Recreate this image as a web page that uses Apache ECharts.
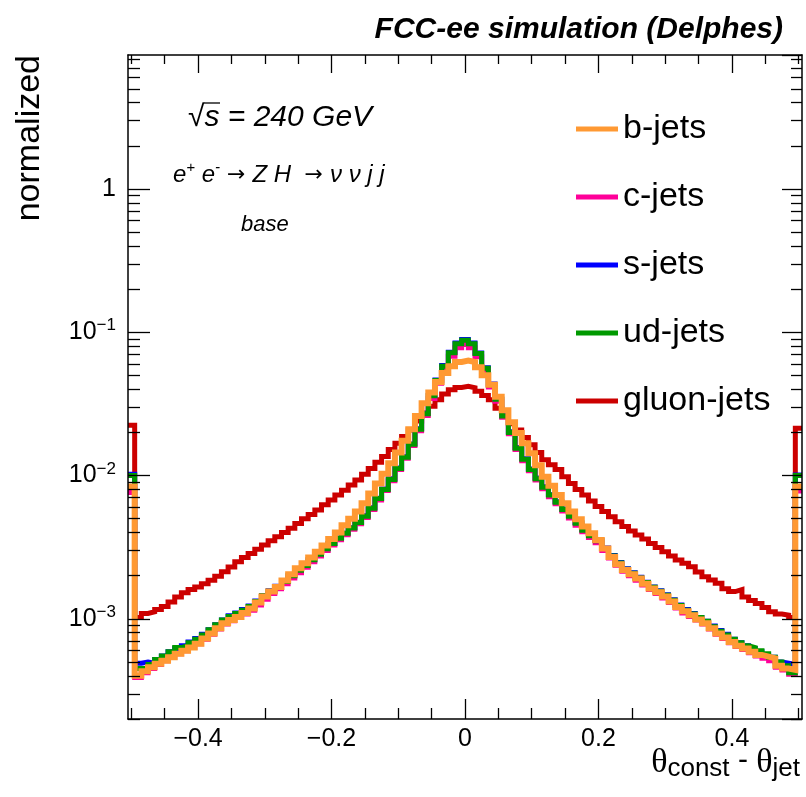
<!DOCTYPE html>
<html><head><meta charset="utf-8">
<script src="https://cdn.jsdelivr.net/npm/echarts@6/dist/echarts.min.js"></script>
<style>html,body{margin:0;padding:0;background:#fff}#c{width:806px;height:797px}</style>
</head><body><div id="c"></div>
<script>
// Histogram binning (101 bins of 0.01 centred on -0.50 ... 0.50)
const BIN_LO = -0.505, BIN_W = 0.01;
const X_MIN = -0.505, X_MAX = 0.505;
const Y_MIN = 2e-4, Y_MAX = 8.6;

const seriesNames = ['b-jets', 'c-jets', 's-jets', 'ud-jets', 'gluon-jets'];
const seriesColors = ['#FF9933', '#FF0099', '#0000FF', '#009900', '#CC0000'];

const bJets = [8.4e-3,
 4.0e-4,4.3e-4,4.6e-4,4.85e-4,5.1e-4,5.4e-4,5.7e-4,6.0e-4,6.3e-4,6.7e-4,
 7.3e-4,7.9e-4,8.6e-4,9.3e-4,9.8e-4,1.03e-3,1.1e-3,1.18e-3,1.3e-3,1.43e-3,
 1.55e-3,1.67e-3,1.85e-3,2.05e-3,2.25e-3,2.44e-3,2.68e-3,2.94e-3,3.25e-3,3.6e-3,
 4.0e-3,4.5e-3,5.0e-3,5.6e-3,6.4e-3,7.5e-3,8.8e-3,1.03e-2,1.22e-2,1.45e-2,
 1.75e-2,2.1e-2,2.6e-2,3.2e-2,3.8e-2,4.5e-2,5.2e-2,5.8e-2,6.2e-2,
 6.35e-2,
 6.2e-2,5.7e-2,5.0e-2,4.3e-2,3.55e-2,2.85e-2,2.35e-2,1.98e-2,1.68e-2,1.43e-2,
 1.18e-2,9.8e-3,8.5e-3,7.3e-3,6.4e-3,5.6e-3,4.95e-3,4.4e-3,3.95e-3,3.55e-3,
 3.1e-3,2.7e-3,2.4e-3,2.19e-3,2.05e-3,1.91e-3,1.76e-3,1.63e-3,1.53e-3,1.43e-3,
 1.32e-3,1.21e-3,1.13e-3,1.06e-3,9.9e-4,9.3e-4,8.6e-4,7.9e-4,7.4e-4,6.9e-4,
 6.5e-4,6.2e-4,5.9e-4,5.6e-4,5.45e-4,5.3e-4,4.7e-4,4.5e-4,4.4e-4,
 8.4e-3];

const cJets = [7.6e-3,
 3.9e-4,4.2e-4,4.5e-4,4.8e-4,5.1e-4,5.4e-4,5.7e-4,6.0e-4,6.3e-4,6.7e-4,
 7.2e-4,7.8e-4,8.5e-4,9.2e-4,9.7e-4,1.02e-3,1.08e-3,1.15e-3,1.25e-3,1.37e-3,
 1.5e-3,1.62e-3,1.76e-3,1.93e-3,2.1e-3,2.29e-3,2.5e-3,2.74e-3,3.0e-3,3.27e-3,
 3.56e-3,3.86e-3,4.22e-3,4.6e-3,5.1e-3,5.8e-3,6.75e-3,7.85e-3,9.2e-3,1.1e-2,
 1.32e-2,1.62e-2,2.05e-2,2.62e-2,3.45e-2,4.4e-2,5.5e-2,6.8e-2,7.8e-2,
 8.2e-2,
 7.8e-2,6.75e-2,5.4e-2,4.15e-2,3.3e-2,2.55e-2,1.96e-2,1.52e-2,1.27e-2,1.08e-2,
 9.3e-3,8.1e-3,7.1e-3,6.35e-3,5.65e-3,5.05e-3,4.5e-3,4.05e-3,3.7e-3,3.4e-3,
 3.0e-3,2.66e-3,2.37e-3,2.15e-3,2.0e-3,1.86e-3,1.72e-3,1.6e-3,1.5e-3,1.4e-3,
 1.3e-3,1.19e-3,1.1e-3,1.04e-3,9.8e-4,9.2e-4,8.5e-4,7.8e-4,7.3e-4,6.8e-4,
 6.4e-4,6.1e-4,5.8e-4,5.5e-4,5.3e-4,5.1e-4,4.6e-4,4.4e-4,4.1e-4,
 7.8e-3];

const sJets = [1.02e-2,
 4.9e-4,5.0e-4,4.9e-4,5.2e-4,5.5e-4,5.9e-4,6.2e-4,6.5e-4,6.9e-4,7.3e-4,
 7.8e-4,8.4e-4,9.1e-4,9.8e-4,1.05e-3,1.1e-3,1.16e-3,1.23e-3,1.33e-3,1.45e-3,
 1.57e-3,1.69e-3,1.83e-3,2.0e-3,2.18e-3,2.37e-3,2.58e-3,2.83e-3,3.08e-3,3.36e-3,
 3.66e-3,3.96e-3,4.32e-3,4.72e-3,5.25e-3,5.95e-3,6.95e-3,8.05e-3,9.5e-3,1.13e-2,
 1.35e-2,1.66e-2,2.12e-2,2.72e-2,3.62e-2,4.65e-2,5.85e-2,7.25e-2,8.4e-2,
 8.9e-2,
 8.4e-2,7.15e-2,5.65e-2,4.35e-2,3.42e-2,2.62e-2,2.02e-2,1.57e-2,1.31e-2,1.11e-2,
 9.6e-3,8.35e-3,7.35e-3,6.55e-3,5.85e-3,5.25e-3,4.7e-3,4.2e-3,3.82e-3,3.52e-3,
 3.12e-3,2.77e-3,2.47e-3,2.24e-3,2.1e-3,1.95e-3,1.8e-3,1.67e-3,1.57e-3,1.47e-3,
 1.36e-3,1.25e-3,1.16e-3,1.09e-3,1.02e-3,9.6e-4,8.9e-4,8.3e-4,7.8e-4,7.2e-4,
 6.8e-4,6.5e-4,6.2e-4,5.9e-4,5.6e-4,5.4e-4,5.0e-4,4.9e-4,4.8e-4,
 1.01e-2];

const udJets = [1.0e-2,
 4.5e-4,4.5e-4,4.8e-4,5.2e-4,5.5e-4,5.9e-4,6.3e-4,6.5e-4,6.8e-4,7.2e-4,
 7.7e-4,8.4e-4,9.1e-4,9.8e-4,1.04e-3,1.09e-3,1.15e-3,1.22e-3,1.32e-3,1.45e-3,
 1.56e-3,1.68e-3,1.82e-3,2.0e-3,2.18e-3,2.36e-3,2.58e-3,2.82e-3,3.08e-3,3.35e-3,
 3.65e-3,3.95e-3,4.3e-3,4.7e-3,5.2e-3,5.9e-3,6.9e-3,8.0e-3,9.4e-3,1.12e-2,
 1.34e-2,1.65e-2,2.1e-2,2.7e-2,3.6e-2,4.6e-2,5.8e-2,7.2e-2,8.3e-2,
 8.8e-2,
 8.3e-2,7.1e-2,5.6e-2,4.3e-2,3.4e-2,2.6e-2,2.0e-2,1.55e-2,1.3e-2,1.1e-2,
 9.5e-3,8.3e-3,7.3e-3,6.5e-3,5.8e-3,5.2e-3,4.65e-3,4.15e-3,3.8e-3,3.5e-3,
 3.1e-3,2.75e-3,2.45e-3,2.22e-3,2.08e-3,1.93e-3,1.79e-3,1.66e-3,1.56e-3,1.46e-3,
 1.35e-3,1.24e-3,1.15e-3,1.08e-3,1.02e-3,9.6e-4,8.8e-4,8.2e-4,7.7e-4,7.2e-4,
 6.8e-4,6.5e-4,6.3e-4,6.0e-4,5.7e-4,5.4e-4,5.0e-4,4.7e-4,4.2e-4,
 1.0e-2];

const gluonJets = [2.24e-2,
 1.02e-3,1.09e-3,1.12e-3,1.16e-3,1.22e-3,1.31e-3,1.42e-3,1.52e-3,1.6e-3,1.67e-3,
 1.76e-3,1.86e-3,1.98e-3,2.13e-3,2.3e-3,2.5e-3,2.68e-3,2.86e-3,3.06e-3,3.27e-3,
 3.5e-3,3.74e-3,4.0e-3,4.28e-3,4.62e-3,5.0e-3,5.35e-3,5.75e-3,6.25e-3,6.76e-3,
 7.3e-3,7.9e-3,8.6e-3,9.3e-3,1.02e-2,1.12e-2,1.24e-2,1.36e-2,1.52e-2,1.68e-2,
 1.87e-2,2.08e-2,2.4e-2,2.73e-2,3.05e-2,3.38e-2,3.7e-2,3.97e-2,4.12e-2,
 4.2e-2,
 4.1e-2,3.87e-2,3.62e-2,3.38e-2,2.95e-2,2.59e-2,2.3e-2,2.08e-2,1.84e-2,1.64e-2,
 1.45e-2,1.29e-2,1.19e-2,1.1e-2,9.8e-3,8.8e-3,8.0e-3,7.3e-3,6.65e-3,6.07e-3,
 5.6e-3,5.16e-3,4.75e-3,4.4e-3,4.1e-3,3.85e-3,3.6e-3,3.36e-3,3.15e-3,2.94e-3,
 2.75e-3,2.57e-3,2.44e-3,2.31e-3,2.12e-3,1.97e-3,1.87e-3,1.77e-3,1.62e-3,1.55e-3,
 1.6e-3,1.42e-3,1.34e-3,1.28e-3,1.2e-3,1.12e-3,1.08e-3,1.06e-3,1.02e-3,
 2.14e-2];

const xMajorTicks = [-0.4, -0.2, 0, 0.2, 0.4];
const xMinorTicks = [-0.5,-0.45,-0.35,-0.3,-0.25,-0.15,-0.1,-0.05,0.05,0.1,0.15,0.25,0.3,0.35,0.45,0.5];
const yMinorTicks = [2e-4,3e-4,4e-4,5e-4,6e-4,7e-4,8e-4,9e-4,
 2e-3,3e-3,4e-3,5e-3,6e-3,7e-3,8e-3,9e-3,
 2e-2,3e-2,4e-2,5e-2,6e-2,7e-2,8e-2,9e-2,
 0.2,0.3,0.4,0.5,0.6,0.7,0.8,0.9,
 2,3,4,5,6,7,8];

const F = '"Liberation Sans", Arial, Helvetica, sans-serif';
const valuesByName = {'b-jets': bJets, 'c-jets': cJets, 's-jets': sJets, 'ud-jets': udJets, 'gluon-jets': gluonJets};

function histPoints(vals) {
  const pts = vals.map((v, i) => [BIN_LO + i * BIN_W, v]);
  pts.push([BIN_LO + vals.length * BIN_W, vals[vals.length - 1]]);
  return pts;
}

// drawing order: gluon at the bottom, b-jets on top
const drawOrder = ['gluon-jets', 's-jets', 'c-jets', 'ud-jets', 'b-jets'];
const series = drawOrder.map(name => {
  const col = seriesColors[seriesNames.indexOf(name)];
  return {
    name, type: 'line', step: 'end', xAxisIndex: 0, yAxisIndex: 0,
    data: histPoints(valuesByName[name]),
    showSymbol: false, symbol: 'none', color: col,
    itemStyle: {color: col},
    lineStyle: {color: col, width: name === 'b-jets' ? 6 : 5, cap: 'butt', join: 'miter'},
    clip: true, z: 2
  };
});

const axisLineStyle = {show: true, onZero: false, lineStyle: {color: '#000', width: 1.5}};
const noLine = {show: false, onZero: false};
const tickStyle = {color: '#000', width: 1.3};
const fmtX = v => Math.abs(v) < 1e-9 ? '0' : (v < 0 ? '\u2212' : '') + Math.abs(v).toFixed(1);
const fmtY = v => {
  const e = Math.round(Math.log10(v));
  return e === 0 ? '{b|1}' : (e === 1 ? '{b|10}' : '{b|10}{s|' + (e < 0 ? '\u2212' : '') + Math.abs(e) + '}');
};

const option = {
  animation: false,
  backgroundColor: '#fff',
  grid: {left: 128, right: 4, top: 55, bottom: 78, containLabel: false, outerBoundsMode: 'none'},
  legend: {
    data: seriesNames, orient: 'vertical', left: 571, top: 104,
    icon: 'rect', itemWidth: 42, itemHeight: 5, itemGap: 28,
    textStyle: {fontFamily: F, fontSize: 34, color: '#000', lineHeight: 40},
    selectedMode: false
  },
  xAxis: [
    {type: 'value', position: 'bottom', min: X_MIN, max: X_MAX, z: 10,
     axisLine: axisLineStyle, splitLine: {show: false},
     axisTick: {show: true, inside: true, length: 20, lineStyle: tickStyle, customValues: xMajorTicks},
     axisLabel: {show: true, customValues: xMajorTicks, formatter: fmtX, margin: 8,
       fontFamily: F, fontSize: 25, color: '#000'}},
    {type: 'value', position: 'bottom', min: X_MIN, max: X_MAX, z: 10,
     axisLine: noLine, splitLine: {show: false}, axisLabel: {show: false},
     axisTick: {show: true, inside: true, length: 11, lineStyle: tickStyle, customValues: xMinorTicks}},
    {type: 'value', position: 'top', min: X_MIN, max: X_MAX, z: 10,
     axisLine: axisLineStyle, splitLine: {show: false}, axisLabel: {show: false},
     axisTick: {show: true, inside: true, length: 18, lineStyle: tickStyle, customValues: xMajorTicks}},
    {type: 'value', position: 'top', min: X_MIN, max: X_MAX, z: 10,
     axisLine: noLine, splitLine: {show: false}, axisLabel: {show: false},
     axisTick: {show: true, inside: true, length: 9, lineStyle: tickStyle, customValues: xMinorTicks}}
  ],
  yAxis: [
    {type: 'log', logBase: 10, position: 'left', min: Y_MIN, max: Y_MAX, z: 10,
     axisLine: axisLineStyle, splitLine: {show: false},
     axisTick: {show: true, inside: true, length: 22, lineStyle: tickStyle},
     axisLabel: {show: true, showMinLabel: false, showMaxLabel: false, margin: 12, formatter: fmtY,
       rich: {
         b: {fontFamily: F, fontSize: 25, color: '#000', lineHeight: 30, verticalAlign: 'middle'},
         s: {fontFamily: F, fontSize: 17, color: '#000', lineHeight: 16, verticalAlign: 'top'}
       }}},
    {type: 'value', position: 'left', min: Math.log10(Y_MIN), max: Math.log10(Y_MAX), z: 10,
     axisLine: noLine, splitLine: {show: false}, axisLabel: {show: false},
     axisTick: {show: true, inside: true, length: 12, lineStyle: tickStyle, customValues: yMinorTicks.map(v => Math.log10(v))}},
    {type: 'log', logBase: 10, position: 'right', min: Y_MIN, max: Y_MAX, z: 10,
     axisLine: axisLineStyle, splitLine: {show: false}, axisLabel: {show: false},
     axisTick: {show: true, inside: true, length: 20, lineStyle: tickStyle}},
    {type: 'value', position: 'right', min: Math.log10(Y_MIN), max: Math.log10(Y_MAX), z: 10,
     axisLine: noLine, splitLine: {show: false}, axisLabel: {show: false},
     axisTick: {show: true, inside: true, length: 11, lineStyle: tickStyle, customValues: yMinorTicks.map(v => Math.log10(v))}}
  ],
  series,
  graphic: [
    {type: 'text', x: 783, y: 30, z: 20, style: {text: 'FCC-ee simulation (Delphes)', align: 'right', verticalAlign: 'middle',
      font: 'italic bold 30px ' + F, fill: '#000'}},
    {type: 'text', x: 30, y: 55, rotation: Math.PI / 2, z: 20, style: {text: 'normalized', align: 'right', verticalAlign: 'middle',
      font: '34px ' + F, fill: '#000'}},
    {type: 'text', x: 800, y: 746, z: 20, style: {
      text: '{t|\u03B8}{s|const}{m| - }{t|\u03B8}{s|jet}', align: 'right', verticalAlign: 'top',
      rich: {
        t: {fontFamily: '"Liberation Serif", serif', fontSize: 34, lineHeight: 36, verticalAlign: 'top', fill: '#000'},
        s: {fontFamily: F, fontSize: 26, lineHeight: 26, verticalAlign: 'bottom', fill: '#000'},
        m: {fontFamily: F, fontSize: 30, lineHeight: 36, verticalAlign: 'top', fill: '#000'}
      }}},
    {type: 'text', x: 188, y: 118, z: 20, style: {text: '\u221As = 240 GeV', align: 'left', verticalAlign: 'middle',
      font: 'italic 30px ' + F, fill: '#000'}},
    {type: 'line', z: 20, shape: {x1: 204, y1: 103, x2: 220, y2: 103}, style: {stroke: '#000', lineWidth: 1.3}},
    {type: 'text', x: 173, y: 175, z: 20, style: {
      text: '{i|e}{u|+}{i| e}{u|-}{r| \u2192 }{i|Z H  }{r|\u2192 }{i|\u03BD \u03BD j j}', align: 'left', verticalAlign: 'middle',
      rich: {
        i: {fontFamily: F, fontStyle: 'italic', fontSize: 24, lineHeight: 30, verticalAlign: 'middle', fill: '#000'},
        u: {fontFamily: F, fontStyle: 'italic', fontSize: 15, lineHeight: 14, verticalAlign: 'top', fill: '#000'},
        r: {fontFamily: '"DejaVu Sans", sans-serif', fontSize: 22, lineHeight: 30, verticalAlign: 'middle', fill: '#000'}
      }}},
    {type: 'text', x: 241, y: 225, z: 20, style: {text: 'base', align: 'left', verticalAlign: 'middle',
      font: 'italic 22px ' + F, fill: '#000'}}
  ]
};

const chart = echarts.init(document.getElementById('c'), null, {renderer: 'canvas'});
chart.setOption(option);
</script>
</body></html>
